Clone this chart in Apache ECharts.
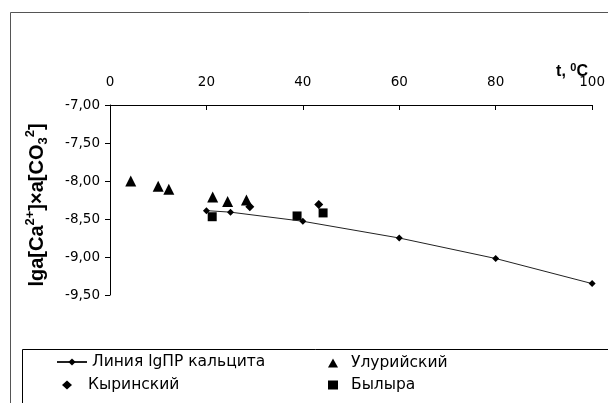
<!DOCTYPE html>
<html>
<head>
<meta charset="utf-8">
<script src="https://cdn.jsdelivr.net/npm/echarts@6/dist/echarts.min.js"></script>
<style>html,body{margin:0;padding:0;background:#fff}#c{width:608px;height:403px}</style>
</head>
<body>
<div id="c"></div>
<script>
// Data
var xTicks = [0, 20, 40, 60, 80, 100];
var yTicks = [-7.0, -7.5, -8.0, -8.5, -9.0, -9.5];
var seriesNames = ['Линия lgПР кальцита', 'Улурийский', 'Кыринский', 'Былыра'];
var lineT = [20, 25, 40, 60, 80, 100];
var lineV = [-8.39, -8.41, -8.53, -8.75, -9.02, -9.35];
var uluT = [4.3, 10.0, 12.2, 21.3, 24.4, 28.3];
var uluV = [-8.00, -8.07, -8.11, -8.21, -8.27, -8.25];
var kyrT = [29.0, 43.3];
var kyrV = [-8.34, -8.31];
var bylT = [21.2, 38.8, 44.2];
var bylV = [-8.47, -8.46, -8.42];

function pairs(a, b) { return a.map(function (v, i) { return [v, b[i]]; }); }

var FONT = 'Liberation Sans';
var TFONT = 'DejaVu Sans';
var chart = echarts.init(document.getElementById('c'), null, {renderer: 'canvas'});
function lt(pad) { return {fontFamily: TFONT, fontSize: 15.5, color: '#000', padding: [0, 0, 0, pad]}; }
var option = {
  backgroundColor: '#fff',
  animation: false,
  grid: {left: 110, right: 13, top: 105, bottom: 108},
  xAxis: {
    type: 'value', position: 'top',
    min: xTicks[0], max: xTicks[xTicks.length - 1], interval: 20,
    axisLine: {show: true, onZero: false, lineStyle: {color: '#000', width: 1}},
    axisTick: {show: true, inside: true, length: 5, lineStyle: {color: '#000'}},
    axisLabel: {margin: 16, fontFamily: TFONT, fontSize: 13.5, color: '#000'},
    splitLine: {show: false}
  },
  yAxis: {
    type: 'value',
    min: yTicks[yTicks.length - 1], max: yTicks[0], interval: 0.5,
    axisLine: {show: true, onZero: false, lineStyle: {color: '#000', width: 1}},
    axisTick: {show: true, inside: false, length: 5, lineStyle: {color: '#000'}},
    axisLabel: {margin: 10, fontFamily: TFONT, fontSize: 13.5, color: '#000',
      formatter: function (v) { return v.toFixed(2).replace('.', ','); }},
    splitLine: {show: false}
  },
  legend: [
    {data: [seriesNames[0]], left: 56, top: 354, padding: 0, itemWidth: 30, itemHeight: 9, textStyle: lt(0)},
    {data: [seriesNames[1]], left: 328, top: 355, padding: 0, itemWidth: 10, itemHeight: 9, textStyle: lt(8)},
    {data: [seriesNames[2]], left: 62, top: 377, padding: 0, itemWidth: 10, itemHeight: 9, textStyle: lt(11)},
    {data: [seriesNames[3]], left: 328, top: 377, padding: 0, itemWidth: 10, itemHeight: 9, textStyle: lt(8)}
  ],
  series: [
    {name: seriesNames[0], type: 'line', data: pairs(lineT, lineV),
      symbol: 'diamond', symbolSize: 7, showAllSymbol: true,
      lineStyle: {color: '#222', width: 1}, itemStyle: {color: '#000', opacity: 1}, z: 3},
    {name: seriesNames[1], type: 'scatter', data: pairs(uluT, uluV),
      symbol: 'triangle', symbolSize: 11, itemStyle: {color: '#000', opacity: 1}},
    {name: seriesNames[2], type: 'scatter', data: pairs(kyrT, kyrV),
      symbol: 'diamond', symbolSize: 9, itemStyle: {color: '#000', opacity: 1}},
    {name: seriesNames[3], type: 'scatter', data: pairs(bylT, bylV),
      symbol: 'rect', symbolSize: 9, itemStyle: {color: '#000', opacity: 1}}
  ],
  graphic: [
    {type: 'rect', shape: {x: 10.5, y: 12.5, width: 620, height: 420}, silent: true,
      style: {fill: 'none', stroke: '#555', lineWidth: 1}, z: -10},
    {type: 'rect', shape: {x: 22.5, y: 349.5, width: 620, height: 80}, silent: true,
      style: {fill: 'none', stroke: '#000', lineWidth: 1}, z: -9},
    {type: 'text', x: 37, y: 205, rotation: Math.PI / 2, silent: true,
      style: {
        text: '{b|lga[Ca}{sup|2+}{b|]×a[CO}{sub|3}{sup|2}{b|]}',
        align: 'center', verticalAlign: 'middle',
        rich: {
          b: {fontFamily: FONT, fontWeight: 'bold', fontSize: 20, lineHeight: 26, fill: '#000'},
          sup: {fontFamily: FONT, fontWeight: 'bold', fontSize: 13, lineHeight: 13, verticalAlign: 'top', fill: '#000'},
          sub: {fontFamily: FONT, fontWeight: 'bold', fontSize: 13, lineHeight: 13, verticalAlign: 'bottom', fill: '#000'}
        }
      }},
    {type: 'text', x: 572, y: 72, silent: true,
      style: {
        text: '{b|t, }{sup|0}{b|C}',
        align: 'center', verticalAlign: 'middle',
        rich: {
          b: {fontFamily: FONT, fontWeight: 'bold', fontSize: 16, lineHeight: 20, fill: '#000'},
          sup: {fontFamily: FONT, fontWeight: 'bold', fontSize: 11, lineHeight: 11, verticalAlign: 'top', fill: '#000'}
        }
      }}
  ]
};
chart.setOption(option);
</script>
</body>
</html>
